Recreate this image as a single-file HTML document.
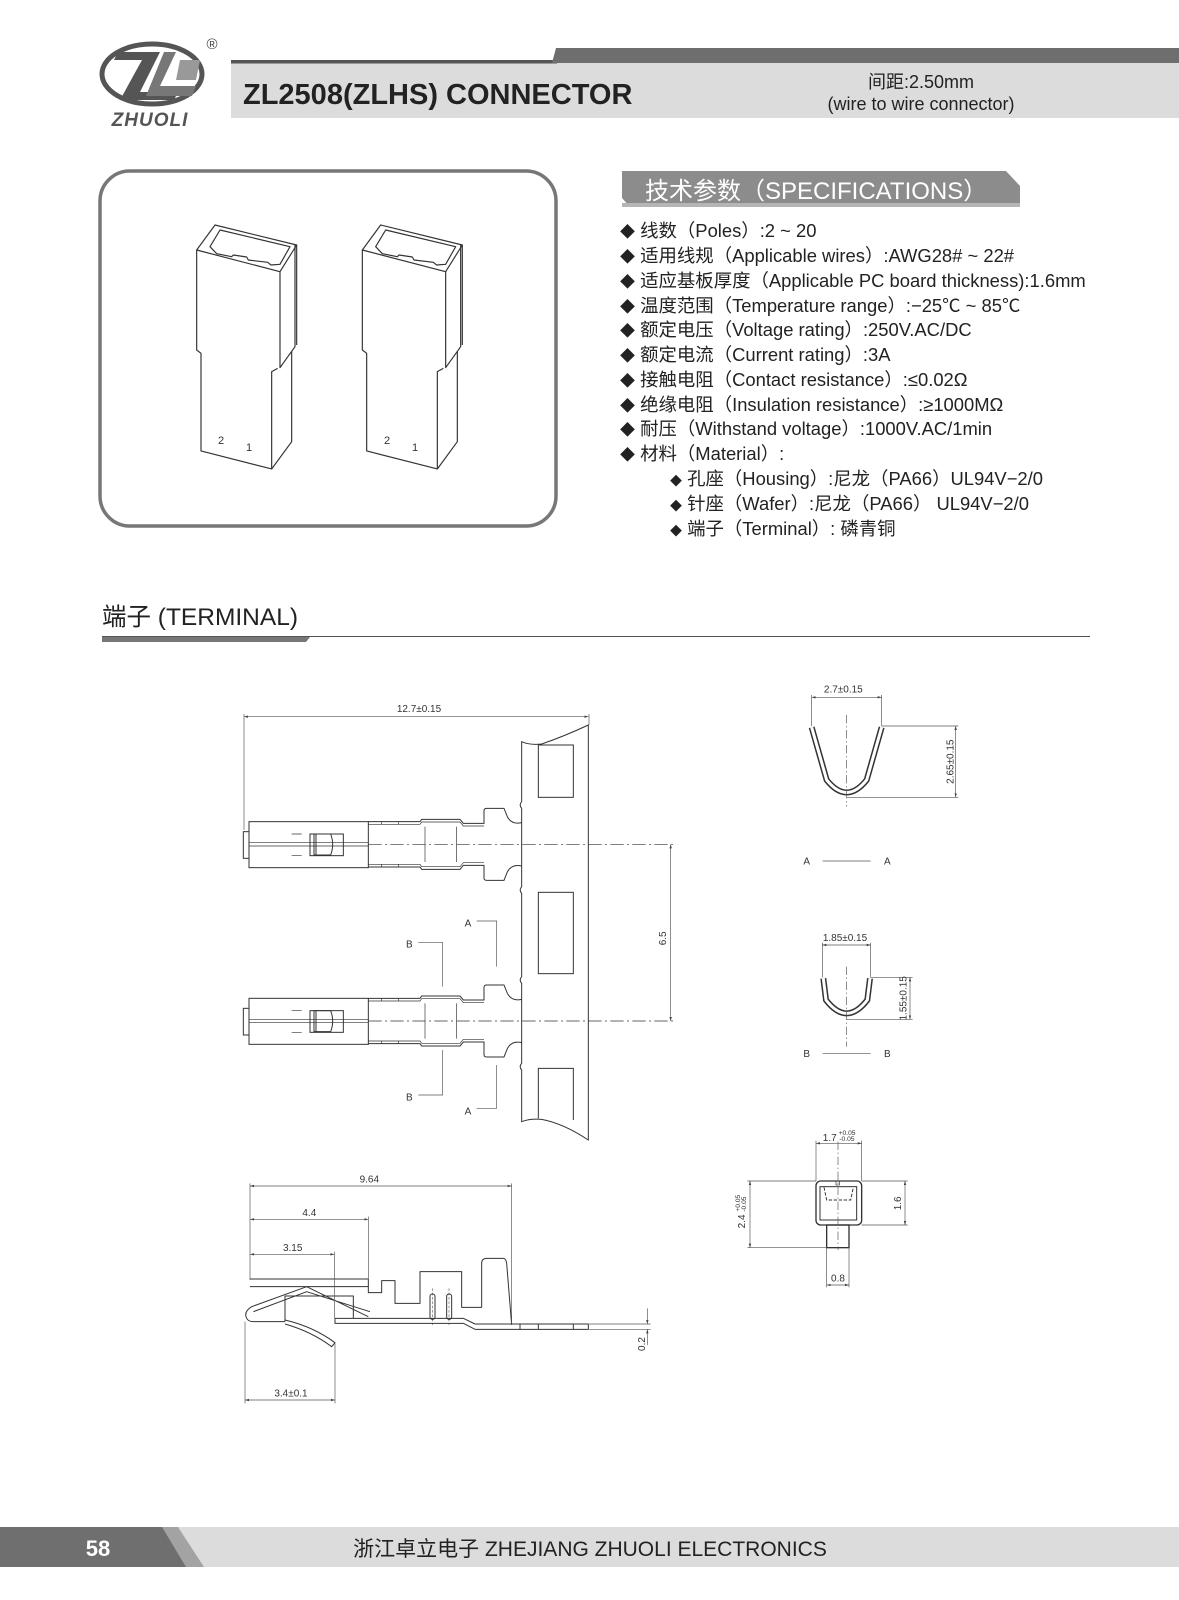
<!DOCTYPE html>
<html><head><meta charset="utf-8"><style>
html,body{margin:0;padding:0;background:#fff;}
svg{display:block;}
text{font-family:"Liberation Sans","Noto Sans CJK SC",sans-serif;}
</style></head><body>
<svg width="1179" height="1600" viewBox="0 0 1179 1600" xmlns="http://www.w3.org/2000/svg">
<defs>
<marker id="ar" viewBox="0 0 10 10" refX="10" refY="5" markerWidth="6" markerHeight="6" orient="auto-start-reverse"><path d="M0,2 L10,5 L0,8 Z" fill="#444"/></marker>
</defs>

<!-- HEADER -->
<rect x="231" y="63" width="948" height="55" fill="#dcdcdc"/>
<rect x="231" y="60" width="326" height="3.5" fill="#555"/>
<polygon points="556,48 1179,48 1179,63 552,63" fill="#6e6e6e"/>
<text x="243" y="104" font-size="29" font-weight="bold" fill="#222">ZL2508(ZLHS) CONNECTOR</text>
<text x="921" y="88" font-size="18" fill="#222" text-anchor="middle">间距:2.50mm</text>
<text x="921" y="110" font-size="18" fill="#222" text-anchor="middle">(wire to wire connector)</text>
<!-- logo -->
<ellipse cx="152" cy="74" rx="50" ry="30" fill="none" stroke="#555" stroke-width="5"/>
<polygon points="118,52 160,52 140,92 178,92 174,100 120,100 142,60 114,60" fill="#555"/>
<polygon points="164,52 176,52 160,86 196,86 192,96 146,96" fill="#777"/>
<polygon points="180,60 200,60 196,80 176,80" fill="#999"/>
<text x="150" y="126" font-size="19" font-style="italic" font-weight="bold" fill="#555" text-anchor="middle" letter-spacing="1">ZHUOLI</text>
<text x="212" y="49" font-size="15" fill="#444" text-anchor="middle">®</text>

<!-- CONNECTOR BOX -->
<rect x="100" y="171" width="456" height="355" rx="30" fill="none" stroke="#777" stroke-width="3.5"/>
<g transform="translate(95,165) scale(0.33333)" fill="none" stroke="#333" stroke-width="3.5" stroke-linejoin="round">
 <g id="conn">
  <path d="M305,255 L360,180 L605,240 L555,320 Z"/>
  <path d="M375,195 L585,245 L555,298 L528,300 L518,292 L460,285 L455,276 L415,270 L410,275 L365,266 L345,245 Z"/>
  <path d="M305,255 V555 L318,565 V858 L530,912 V620 L548,610"/>
  <path d="M555,320 V608 L600,545 V240"/>
  <path d="M530,912 L590,830 V560"/>
  <line x1="605" y1="240" x2="605" y2="540"/>
 </g>
 <use href="#conn" transform="translate(497,0)"/>
</g>
<g font-size="11" fill="#333">
 <text x="218" y="444">2</text><text x="246" y="451">1</text>
 <text x="384" y="444">2</text><text x="412" y="451">1</text>
</g>

<!-- SPECIFICATIONS -->
<polygon points="622,171 1006,171 1020,186 1020,207 630,207 622,198" fill="#8c8c8c"/>
<rect x="622" y="203" width="398" height="4" fill="#b5b5b5"/>
<text x="645" y="199" font-size="24" fill="#fff">技术参数（SPECIFICATIONS）</text>
<g font-size="18.4" fill="#222">
 <text x="620" y="237"><tspan font-size="15">◆</tspan> 线数（Poles）:2 ~ 20</text>
 <text x="620" y="262"><tspan font-size="15">◆</tspan> 适用线规（Applicable wires）:AWG28# ~ 22#</text>
 <text x="620" y="287"><tspan font-size="15">◆</tspan> 适应基板厚度（Applicable PC board thickness):1.6mm</text>
 <text x="620" y="312"><tspan font-size="15">◆</tspan> 温度范围（Temperature range）:−25℃ ~ 85℃</text>
 <text x="620" y="336"><tspan font-size="15">◆</tspan> 额定电压（Voltage rating）:250V.AC/DC</text>
 <text x="620" y="361"><tspan font-size="15">◆</tspan> 额定电流（Current rating）:3A</text>
 <text x="620" y="386"><tspan font-size="15">◆</tspan> 接触电阻（Contact resistance）:≤0.02Ω</text>
 <text x="620" y="411"><tspan font-size="15">◆</tspan> 绝缘电阻（Insulation resistance）:≥1000MΩ</text>
 <text x="620" y="435"><tspan font-size="15">◆</tspan> 耐压（Withstand voltage）:1000V.AC/1min</text>
 <text x="620" y="460"><tspan font-size="15">◆</tspan> 材料（Material）:</text>
 <text x="670" y="485"><tspan font-size="12">◆</tspan> 孔座（Housing）:尼龙（PA66）UL94V−2/0</text>
 <text x="670" y="510"><tspan font-size="12">◆</tspan> 针座（Wafer）:尼龙（PA66） UL94V−2/0</text>
 <text x="670" y="535"><tspan font-size="12">◆</tspan> 端子（Terminal）: 磷青铜</text>
</g>

<!-- TERMINAL heading -->
<text x="102" y="625" font-size="24.5" fill="#222">端子 (TERMINAL)</text>
<polygon points="102,637 310,637 306,642 102,642" fill="#777"/>
<line x1="102" y1="636.5" x2="1090" y2="636.5" stroke="#555" stroke-width="1"/>

<!-- TOP VIEW -->
<g transform="translate(230,690) scale(0.33333)" fill="none" stroke="#333" stroke-width="3">
 <path d="M875,155 Q900,166 935,162 Q1000,140 1075,105 V1350 Q1000,1300 935,1288 Q900,1285 875,1295 V1140 Q866,1130 875,1120 V880 Q866,870 875,860 V610 Q866,600 875,590 V355 Q866,345 875,335 Z"/>
 <rect x="925" y="165" width="105" height="157"/>
 <rect x="925" y="607" width="105" height="244"/>
 <path d="M925,1285 V1135 H1030 V1290"/>
 <g id="term">
  <rect x="57" y="395" width="358" height="138"/>
  <rect x="40" y="425" width="17" height="80"/>
  <path d="M57,458 H415 M57,468 H415" stroke-width="2"/>
  <rect x="240" y="432" width="100" height="65"/>
  <path d="M252,432 V495 H302 Q314,463 302,432 Z M258,432 V495"/>
  <path d="M185,432 H215 M185,497 H215" stroke-width="2"/>
  <path d="M415,395 H570 L575,388 H690 L700,400 H762 V362 Q762,355 770,355 H822 L832,380 Q845,405 875,398"/>
  <path d="M415,403 H570 L575,396 H690 L700,408 H762" stroke-width="2"/>
  <path d="M415,531 H570 L575,538 H690 L700,526 H762 V564 Q762,571 770,571 H822 L832,546 Q845,521 875,528"/>
  <path d="M415,523 H570 L575,530 H690 L700,518 H762" stroke-width="2"/>
  <path d="M585,410 V516 M680,410 V516 M455,395 V403 M505,395 V403 M455,523 V531 M505,523 V531" stroke-width="2"/>
 </g>
 <use href="#term" transform="translate(0,530)"/>
 <path d="M415,463 H1330 M415,993 H1330" stroke-width="2" stroke-dasharray="40 10 6 10"/>
 <g stroke="#555" stroke-width="2">
  <line x1="42" y1="80" x2="1075" y2="80" marker-start="url(#ar)" marker-end="url(#ar)"/>
  <path d="M42,72 V420 M1077,72 V105"/>
  <line x1="1322" y1="463" x2="1322" y2="993" marker-start="url(#ar)" marker-end="url(#ar)"/>
  <path d="M565,757 H638 V890 M740,693 H800 V830 M638,1080 V1215 H565 M800,1125 V1255 H740"/>
 </g>
 <g fill="#333" stroke="none" font-size="30">
  <text x="567" y="66" text-anchor="middle">12.7±0.15</text>
  <text x="1308" y="745" text-anchor="middle" transform="rotate(-90 1308 745)">6.5</text>
  <text x="538" y="773" text-anchor="middle">B</text>
  <text x="714" y="710" text-anchor="middle">A</text>
  <text x="538" y="1232" text-anchor="middle">B</text>
  <text x="714" y="1273" text-anchor="middle">A</text>
 </g>
</g>

<!-- SIDE VIEW -->
<g transform="translate(230,1170) scale(0.33333)" fill="none" stroke="#333" stroke-width="3" stroke-linejoin="round">
 <path d="M60,327 H415 M60,350 H415"/>
 <path d="M415,327 V368 H455 V332 H495 V400 H570 V305 H695 V412 H755 V280 Q755,265 770,265 H820 Q828,265 830,280 L845,465"/>
 <path d="M315,445 H700 L735,462 H1075 M315,445 V460 H700 L735,478 H1075 M1075,462 V478 M870,462 V478 M925,462 V478 M1030,462 V478"/>
 <path d="M415,440 L230,350 L65,410 Q40,425 50,445 Q55,455 70,455 H165 M420,425 L230,365 L70,425"/>
 <path d="M165,455 V378 H370 V445"/>
 <path d="M165,450 Q250,470 315,518 L305,530 Q245,485 165,462"/>
 <rect x="600" y="372" width="15" height="76" rx="7"/>
 <rect x="650" y="372" width="15" height="76" rx="7"/>
 <path d="M607,355 V465 M657,355 V465" stroke-width="1.5" stroke-dasharray="8 5"/>
 <g stroke="#555" stroke-width="2">
  <line x1="60" y1="48" x2="845" y2="48" marker-start="url(#ar)" marker-end="url(#ar)"/>
  <line x1="60" y1="148" x2="415" y2="148" marker-start="url(#ar)" marker-end="url(#ar)"/>
  <line x1="60" y1="253" x2="313" y2="253" marker-start="url(#ar)" marker-end="url(#ar)"/>
  <line x1="45" y1="690" x2="315" y2="690" marker-start="url(#ar)" marker-end="url(#ar)"/>
  <path d="M60,40 V330 M415,140 V327 M313,245 V445 M845,40 V465 M45,455 V700 M315,520 V700 M1075,462 H1262 M1075,478 H1262"/>
  <line x1="1252" y1="415" x2="1252" y2="462" marker-end="url(#ar)"/>
  <line x1="1252" y1="525" x2="1252" y2="478" marker-end="url(#ar)"/>
 </g>
 <g fill="#333" stroke="none" font-size="30">
  <text x="418" y="38" text-anchor="middle">9.64</text>
  <text x="238" y="138" text-anchor="middle">4.4</text>
  <text x="188" y="243" text-anchor="middle">3.15</text>
  <text x="183" y="680" text-anchor="middle">3.4±0.1</text>
  <text x="1245" y="522" text-anchor="middle" transform="rotate(-90 1245 522)">0.2</text>
 </g>
</g>

<!-- SECTIONS A/B -->
<g transform="translate(780,670) scale(0.33333)" fill="none">
 <path d="M95,172 L140,330 Q200,405 260,330 L305,172" stroke="#333" stroke-width="18"/>
 <path d="M95,172 L140,330 Q200,405 260,330 L305,172" stroke="#fff" stroke-width="9"/>
 <path d="M130,925 L138,990 Q200,1070 262,990 L270,925" stroke="#333" stroke-width="18"/>
 <path d="M130,925 L138,990 Q200,1070 262,990 L270,925" stroke="#fff" stroke-width="9"/>
 <g stroke="#555" stroke-width="2">
  <line x1="95" y1="82" x2="305" y2="82" marker-start="url(#ar)" marker-end="url(#ar)"/>
  <path d="M95,75 V168 M305,75 V168 M305,168 H535 M200,382 H535 M128,573 H272 M128,1150 H272 M127,818 V922 M272,818 V922 M272,922 H398 M200,1048 H398"/>
  <line x1="527" y1="168" x2="527" y2="382" marker-start="url(#ar)" marker-end="url(#ar)"/>
  <line x1="127" y1="825" x2="272" y2="825" marker-start="url(#ar)" marker-end="url(#ar)"/>
  <line x1="390" y1="922" x2="390" y2="1048" marker-start="url(#ar)" marker-end="url(#ar)"/>
  <path d="M200,135 V410 M200,890 V1130" stroke-dasharray="25 8 4 8"/>
 </g>
 <g fill="#333" font-size="30">
  <text x="190" y="68" text-anchor="middle">2.7±0.15</text>
  <text x="520" y="275" text-anchor="middle" transform="rotate(-90 520 275)">2.65±0.15</text>
  <text x="80" y="584" text-anchor="middle">A</text><text x="322" y="584" text-anchor="middle">A</text>
  <text x="195" y="813" text-anchor="middle">1.85±0.15</text>
  <text x="380" y="985" text-anchor="middle" transform="rotate(-90 380 985)">1.55±0.15</text>
  <text x="80" y="1161" text-anchor="middle">B</text><text x="322" y="1161" text-anchor="middle">B</text>
 </g>
</g>

<!-- END VIEW -->
<g transform="translate(720,1110) scale(0.33333)" fill="none" stroke="#333" stroke-width="4">
 <rect x="288" y="213" width="137" height="132" rx="14"/>
 <rect x="300" y="230" width="110" height="100" stroke-width="3"/>
 <path d="M312,232 L320,270 H392 L400,232 M302,330 H408" stroke-width="3" stroke-dasharray="10 5"/>
 <rect x="320" y="345" width="67" height="68"/>
 <rect x="348" y="213" width="10" height="12" stroke-width="2"/>
 <g stroke="#555" stroke-width="2">
  <path d="M354,95 V420" stroke-dasharray="25 8 4 8"/>
  <line x1="288" y1="100" x2="425" y2="100" marker-start="url(#ar)" marker-end="url(#ar)"/>
  <path d="M288,92 V213 M425,92 V213 M82,213 H288 M82,413 H320 M425,213 H563 M425,345 H563 M320,413 V532 M387,413 V532"/>
  <line x1="90" y1="213" x2="90" y2="413" marker-start="url(#ar)" marker-end="url(#ar)"/>
  <line x1="555" y1="213" x2="555" y2="345" marker-start="url(#ar)" marker-end="url(#ar)"/>
  <line x1="320" y1="525" x2="387" y2="525" marker-start="url(#ar)" marker-end="url(#ar)"/>
 </g>
 <g fill="#333" stroke="none">
  <text x="350" y="93" font-size="30" text-anchor="end">1.7</text>
  <text x="356" y="75" font-size="20">+0.05</text>
  <text x="358" y="93" font-size="20">-0.05</text>
  <text x="75" y="355" font-size="30" transform="rotate(-90 75 355)">2.4</text>
  <text x="60" y="305" font-size="20" transform="rotate(-90 60 305)">+0.05</text>
  <text x="78" y="305" font-size="20" transform="rotate(-90 78 305)">-0.05</text>
  <text x="543" y="280" font-size="30" text-anchor="middle" transform="rotate(-90 543 280)">1.6</text>
  <text x="354" y="515" font-size="30" text-anchor="middle">0.8</text>
 </g>
</g>

<!-- FOOTER -->
<rect x="0" y="1527" width="1179" height="40" fill="#dcdcdc"/>
<polygon points="0,1527 178,1527 204,1567 0,1567" fill="#a3a3a3"/>
<polygon points="0,1527 162,1527 186,1567 0,1567" fill="#6f6f6f"/>
<text x="98" y="1556" font-size="22" font-weight="bold" fill="#fff" text-anchor="middle">58</text>
<text x="590" y="1556" font-size="21" fill="#222" text-anchor="middle">浙江卓立电子 ZHEJIANG ZHUOLI ELECTRONICS</text>
</svg>
</body></html>
